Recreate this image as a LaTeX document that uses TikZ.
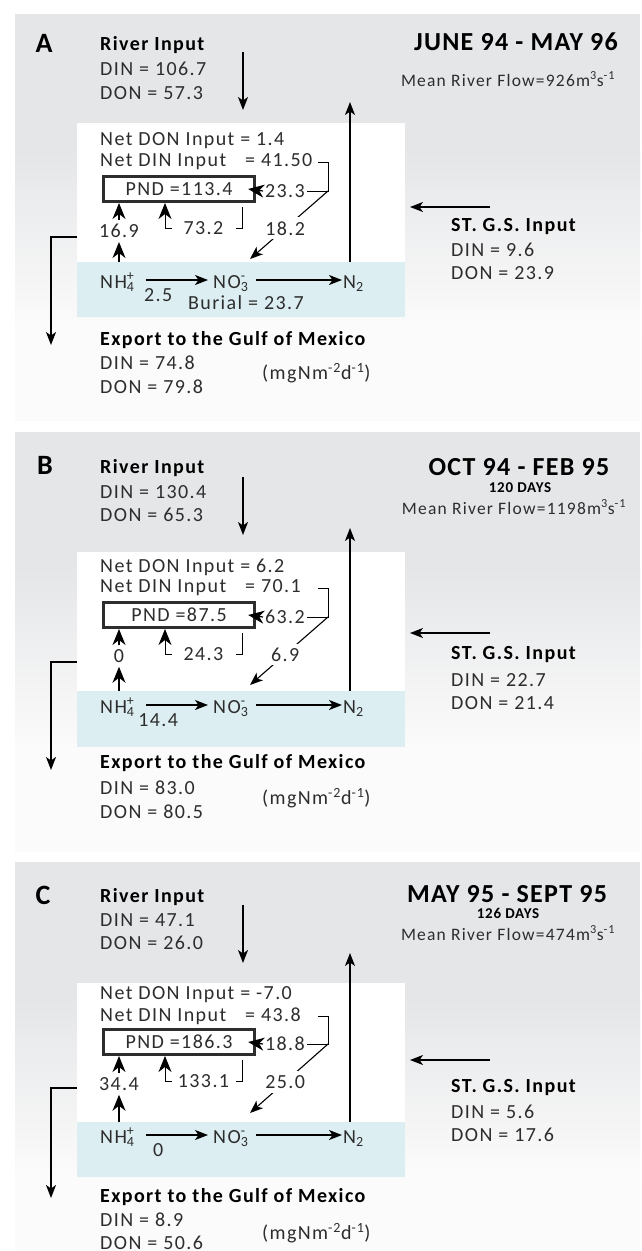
\documentclass[tikz,border=0pt]{standalone}
\usepackage{fontspec}
\setmainfont{Carlito}[LetterSpace=7]
\newfontfamily\headfont{Carlito}[LetterSpace=5]
\usetikzlibrary{arrows.meta}
\definecolor{panelgrey}{RGB}{229,230,232}
\definecolor{fadegrey}{RGB}{251,251,251}
\definecolor{bandblue}{RGB}{220,238,242}
\definecolor{ink}{RGB}{45,45,45}

\begin{document}
\begin{tikzpicture}[x=1pt,y=-1pt,
	every node/.style={inner sep=0pt,text=ink,font=\fontsize{20}{20}\selectfont},
	txt/.style={anchor=west},
	hd/.style={anchor=west,text=black,font=\fontsize{20}{20}\selectfont\bfseries},
	letter/.style={text=black,font=\headfont\fontsize{28}{28}\selectfont\bfseries},
	ttl/.style={text=black,font=\headfont\fontsize{26}{26}\selectfont\bfseries},
	days/.style={text=black,font=\headfont\fontsize{15}{15}\selectfont\bfseries},
	flowtxt/.style={font=\fontsize{17.5}{17.5}\selectfont},
	chem/.style={anchor=west,text height=18pt,text depth=2pt},
	lbl/.style={fill=white,inner xsep=2pt,inner ysep=4pt},
	pndbox/.style={draw=ink,line width=2.8pt,minimum width=151.5pt,minimum height=25.2pt},
	whitebox/.style={fill=white,minimum width=328pt,minimum height=139pt},
	bandbox/.style={fill=bandblue,minimum width=328pt,minimum height=55pt},
	flow/.style={line width=1.3pt,-{Stealth[length=13pt,width=10pt,inset=3.5pt]}},
	kite/.style={line width=1.2pt,-{Stealth[length=16pt,width=13pt,inset=5pt]}},
	brk/.style={line width=1pt}]
	
	\fill[white](0,0)rectangle(642,1251);
	\useasboundingbox(0,0)rectangle(642,1251);
	\fill[panelgrey](15,14)rectangle(640,150);
	\shade[top color=panelgrey,bottom color=fadegrey](15,150)rectangle(640,330);
	\fill[fadegrey](15,330)rectangle(640,421);
	\fill[panelgrey](15,432)rectangle(640,568);
	\shade[top color=panelgrey,bottom color=fadegrey](15,568)rectangle(640,748);
	\fill[fadegrey](15,748)rectangle(640,852);
	\fill[panelgrey](15,862)rectangle(640,998);
	\shade[top color=panelgrey,bottom color=fadegrey](15,998)rectangle(640,1178);
	\fill[fadegrey](15,1178)rectangle(640,1251);
	
	\node[whitebox](boxA)at(241,192.5){};
	\node[bandbox](bandA)at(241,289.5){};
	\node[letter](letA)at(44,43){A};
	\node[hd](rivA)at(100,45){River Input};
	\node[txt](rdinA)at(100,69){DIN = 106.7};
	\node[txt](rdonA)at(100,93){DON = 57.3};
	\node[ttl](ttlA)at(516,42){JUNE 94 - MAY 96};
	\node[flowtxt](mrfA)at(508,79){Mean River Flow=926m\textsuperscript{3}s\textsuperscript{-1}};
	\coordinate(rinA)at(243,52);
	\coordinate(routA)at(243,110);
	\draw[flow](rinA)--(routA);
	\coordinate(upA)at(350,102);
	\draw[flow](upA|-bandA.north)--(upA);
	\coordinate(stinA)at(490,207);
	\coordinate(stoutA)at(410,207);
	\draw[flow](stinA)--(stoutA);
	\node[hd](stA)at(451,227){ST. G.S. Input};
	\node[txt](sdinA)at(451,250){DIN = 9.6};
	\node[txt](sdonA)at(451,273){DON = 23.9};
	\node[txt](ndonA)at(100,141){Net DON Input = 1.4};
	\node[txt](ndinA)at(100,162){Net DIN Input\hspace{19pt}= 41.50};
	\node[pndbox](pndA)at(179,189){PND =113.4};
	\node[lbl](r23A)at(285,191){23.3};
	\draw[kite](r23A.west)--([xshift=-8pt]pndA.east);
	\coordinate(brA)at(328,191);
	\draw[brk]([xshift=-10pt]ndinA-|brA)--(ndinA-|brA)--(brA)--(r23A.east);
	\coordinate(nitA)at(250,259);
	\draw[flow,line width=1.1pt](brA)--node[lbl,pos=0.55](r18A){18.2}(nitA);
	\coordinate(outA)at(242,207);
	\coordinate(inA)at(165,203);
	\draw[kite,line width=1pt](outA)--++(0,21)-|node[lbl,pos=0.25,minimum width=64pt](r73A){73.2}(inA);
	\node[lbl](f1A)at(119,231){16.9};
	\draw[kite](f1A|-bandA.north)--(f1A.south);
	\draw[kite](f1A.north)--(f1A|-pndA.south);
	\node[chem](nh4A)at(100,280){NH\rlap{\textsuperscript{+}}\textsubscript{4}};
	\node[chem](no3A)at(213,280){NO\rlap{\textsuperscript{-}}\textsubscript{3}};
	\node[chem](n2A)at(343,280){N\textsubscript{2}};
	\draw[flow,shorten <=11pt,shorten >=5pt](nh4A.east)--node[pos=0.3,below=8pt](k1A){2.5}(no3A.west);
	\draw[flow,shorten <=7pt,shorten >=1pt](no3A.east)--(n2A.west);
	\node[txt](burA)at(188,303){Burial = 23.7};
	\coordinate(expA)at(51,345);
	\draw[flow](boxA.west|-0,237)-|(expA);
	\node[hd](exA)at(100,340){Export to the Gulf of Mexico};
	\node[txt](edinA)at(100,363){DIN = 74.8};
	\node[txt](edonA)at(100,387){DON = 79.8};
	\node[txt](unitA)at(262,373){(mgNm\textsuperscript{-2}d\textsuperscript{-1})};
	
	\begin{scope}[shift={(0,425)}]
	\node[whitebox](boxB)at(241,196.5){};
	\node[bandbox,minimum height=56pt](bandB)at(241,294){};
	\node[letter](letB)at(45,40){B};
	\node[hd](rivB)at(100,43){River Input};
	\node[txt](rdinB)at(100,67){DIN = 130.4};
	\node[txt](rdonB)at(100,90){DON = 65.3};
	\node[ttl](ttlB)at(519,42){OCT 94 - FEB 95};
	\node[days](dayB)at(520,63){120 DAYS};
	\node[flowtxt](mrfB)at(514,82){Mean River Flow=1198m\textsuperscript{3}s\textsuperscript{-1}};
	\coordinate(rinB)at(243,52);
	\coordinate(routB)at(243,110);
	\draw[flow](rinB)--(routB);
	\coordinate(upB)at(350,103);
	\draw[flow](upB|-bandB.north)--(upB);
	\coordinate(stinB)at(490,208);
	\coordinate(stoutB)at(410,208);
	\draw[flow](stinB)--(stoutB);
	\node[hd](stB)at(451,230){ST. G.S. Input};
	\node[txt](sdinB)at(451,255){DIN = 22.7};
	\node[txt](sdonB)at(451,278){DON = 21.4};
	\node[txt](ndonB)at(100,142){Net DON Input = 6.2};
	\node[txt](ndinB)at(100,163){Net DIN Input\hspace{19pt}= 70.1};
	\node[pndbox](pndB)at(179,190){PND =87.5\hspace{18pt}};
	\node[lbl](r63B)at(285,192){63.2};
	\draw[kite](r63B.west)--([xshift=-8pt]pndB.east);
	\coordinate(brB)at(328,192);
	\draw[brk]([xshift=-10pt]ndinB-|brB)--(ndinB-|brB)--(brB)--(r63B.east);
	\coordinate(nitB)at(250,260);
	\draw[flow,line width=1.1pt](brB)--node[lbl,pos=0.55](r69B){6.9}(nitB);
	\coordinate(outB)at(242,208);
	\coordinate(inB)at(165,204);
	\draw[kite,line width=1pt](outB)--++(0,21)-|node[lbl,pos=0.25,minimum width=64pt](r24B){24.3}(inB);
	\node[lbl](f0B)at(119,231){0};
	\draw[kite](f0B|-bandB.north)--(f0B.south);
	\draw[kite](f0B.north)--(f0B|-pndB.south);
	\node[chem](nh4B)at(100,280){NH\rlap{\textsuperscript{+}}\textsubscript{4}};
	\node[chem](no3B)at(213,280){NO\rlap{\textsuperscript{-}}\textsubscript{3}};
	\node[chem](n2B)at(343,280){N\textsubscript{2}};
	\draw[flow,shorten <=11pt,shorten >=5pt](nh4B.east)--node[pos=0.3,below=8pt](k1B){14.4}(no3B.west);
	\draw[flow,shorten <=7pt,shorten >=1pt](no3B.east)--(n2B.west);
	\coordinate(expB)at(51,345);
	\draw[flow](boxB.west|-0,237)-|(expB);
	\node[hd](exB)at(100,338){Export to the Gulf of Mexico};
	\node[txt](edinB)at(100,363){DIN = 83.0};
	\node[txt](edonB)at(100,387){DON = 80.5};
	\node[txt](unitB)at(262,373){(mgNm\textsuperscript{-2}d\textsuperscript{-1})};
	\end{scope}
	
	\begin{scope}[shift={(0,855)}]
	\node[whitebox](boxC)at(241,197.5){};
	\node[bandbox](bandC)at(241,294.5){};
	\node[letter](letC)at(43,40){C};
	\node[hd](rivC)at(100,42){River Input};
	\node[txt](rdinC)at(100,65){DIN = 47.1};
	\node[txt](rdonC)at(100,88){DON = 26.0};
	\node[ttl](ttlC)at(507,39){MAY 95 - SEPT 95};
	\node[days](dayC)at(508,58){126 DAYS};
	\node[flowtxt](mrfC)at(508,78){Mean River Flow=474m\textsuperscript{3}s\textsuperscript{-1}};
	\coordinate(rinC)at(243,50);
	\coordinate(routC)at(243,108);
	\draw[flow](rinC)--(routC);
	\coordinate(upC)at(350,98);
	\draw[flow](upC|-bandC.north)--(upC);
	\coordinate(stinC)at(490,205);
	\coordinate(stoutC)at(410,205);
	\draw[flow](stinC)--(stoutC);
	\node[hd](stC)at(451,232){ST. G.S. Input};
	\node[txt](sdinC)at(451,257){DIN = 5.6};
	\node[txt](sdonC)at(451,280){DON = 17.6};
	\node[txt](ndonC)at(100,140){Net DON Input = -7.0};
	\node[txt](ndinC)at(100,161){Net DIN Input\hspace{19pt}= 43.8};
	\node[pndbox](pndC)at(179,187){PND =186.3};
	\node[lbl](r18C)at(285,189){18.8};
	\draw[kite](r18C.west)--([xshift=-8pt]pndC.east);
	\coordinate(brC)at(328,189);
	\draw[brk]([xshift=-10pt]ndinC-|brC)--(ndinC-|brC)--(brC)--(r18C.east);
	\coordinate(nitC)at(250,258);
	\draw[flow,line width=1.1pt](brC)--node[lbl,pos=0.55](r25C){25.0}(nitC);
	\coordinate(outC)at(242,205);
	\coordinate(inC)at(165,201);
	\draw[kite,line width=1pt](outC)--++(0,21)-|node[lbl,pos=0.25,minimum width=64pt](r133C){133.1}(inC);
	\node[lbl](f34C)at(119,229){34.4};
	\draw[kite](f34C|-bandC.north)--(f34C.south);
	\draw[kite](f34C.north)--(f34C|-pndC.south);
	\node[chem](nh4C)at(100,280){NH\rlap{\textsuperscript{+}}\textsubscript{4}};
	\node[chem](no3C)at(213,280){NO\rlap{\textsuperscript{-}}\textsubscript{3}};
	\node[chem](n2C)at(343,280){N\textsubscript{2}};
	\draw[flow,shorten <=11pt,shorten >=5pt](nh4C.east)--node[pos=0.3,below=8pt](k1C){0}(no3C.west);
	\draw[flow,shorten <=7pt,shorten >=1pt](no3C.east)--(n2C.west);
	\coordinate(expC)at(51,343);
	\draw[flow](boxC.west|-0,233)-|(expC);
	\node[hd](exC)at(100,342){Export to the Gulf of Mexico};
	\node[txt](edinC)at(100,365){DIN = 8.9};
	\node[txt](edonC)at(100,388){DON = 50.6};
	\node[txt](unitC)at(262,378){(mgNm\textsuperscript{-2}d\textsuperscript{-1})};
	\end{scope}
\end{tikzpicture}
\end{document}
